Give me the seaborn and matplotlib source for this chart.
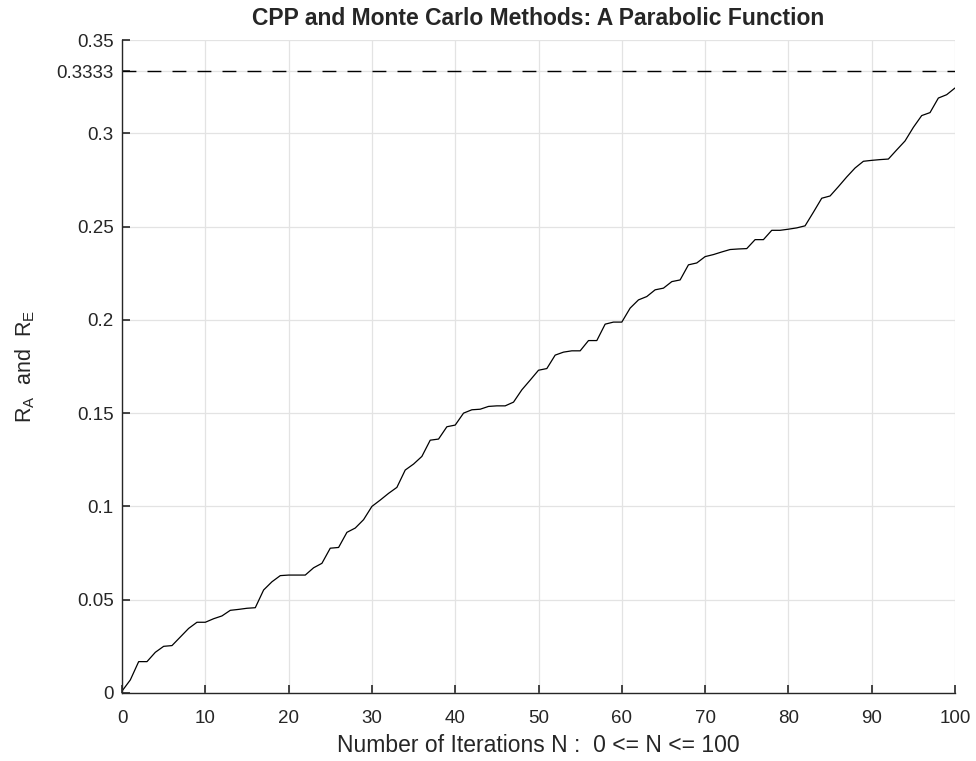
import matplotlib
matplotlib.use("Agg")
import matplotlib.pyplot as plt
import seaborn as sns
import pandas as pd

iterations = list(range(0, 101))
ratio = [
    0.001, 0.007, 0.0168, 0.0168, 0.0218, 0.025, 0.0254, 0.030, 0.0346, 0.0379,
    0.0379, 0.0398, 0.0413, 0.0443, 0.0448, 0.0454, 0.0457, 0.0552, 0.0596, 0.0629,
    0.0632, 0.0632, 0.0632, 0.0671, 0.0695, 0.0776, 0.078, 0.0861, 0.0884, 0.0929,
    0.1, 0.1034, 0.107, 0.1102, 0.1195, 0.1227, 0.1268, 0.1355, 0.1361, 0.1427,
    0.1436, 0.15, 0.1518, 0.1521, 0.1536, 0.1539, 0.1539, 0.1559, 0.1625, 0.1677,
    0.173, 0.1739, 0.1811, 0.1827, 0.1834, 0.1834, 0.1889, 0.1889, 0.1977, 0.1988,
    0.1988, 0.2063, 0.2107, 0.2125, 0.2161, 0.217, 0.2205, 0.2214, 0.2295, 0.2305,
    0.2339, 0.235, 0.2364, 0.2377, 0.238, 0.2382, 0.243, 0.243, 0.248, 0.248,
    0.2486, 0.2493, 0.2504, 0.2577, 0.2652, 0.2664, 0.2714, 0.2766, 0.2814, 0.285,
    0.2855, 0.2859, 0.2862, 0.2911, 0.2959, 0.3032, 0.3095, 0.3111, 0.3189, 0.3207,
    0.3243,
]
exact_value = 1 / 3
x_ticks = [0, 10, 20, 30, 40, 50, 60, 70, 80, 90, 100]
y_ticks = [0, 0.05, 0.1, 0.15, 0.2, 0.25, 0.3, 0.3333, 0.35]
y_tick_labels = ["0", "0.05", "0.1", "0.15", "0.2", "0.25", "0.3", "0.3333", "0.35"]
x_tick_labels = [str(v) for v in x_ticks]

sns.set_theme(style="white")
plt.rcParams["font.family"] = ["Liberation Sans", "DejaVu Sans"]
plt.rcParams["mathtext.fontset"] = "custom"
plt.rcParams["mathtext.rm"] = "Liberation Sans"
plt.rcParams["mathtext.it"] = "Liberation Sans"

df = pd.DataFrame({"N": iterations, "R": ratio})

fig = plt.figure(figsize=(9.76, 7.61), dpi=100)
ax = fig.add_axes([0.125, 0.0894, 0.8535, 0.858])

ax.grid(True, color="#e3e3e3", linewidth=0.9)
ax.set_axisbelow(True)

sns.lineplot(data=df, x="N", y="R", ax=ax, color="black", linewidth=0.9)
ax.axhline(exact_value, color="black", linestyle=(0, (10, 8)), linewidth=1.0)

ax.set_xlim(0, 100)
ax.set_ylim(0, 0.35)
ax.set_xticks(x_ticks)
ax.set_xticklabels(x_tick_labels)
ax.set_yticks(y_ticks)
ax.set_yticklabels(y_tick_labels)
ax.tick_params(axis="both", direction="in", length=6, width=1.2, colors="#262626",
               labelsize=13.5, left=True, bottom=True)
ax.tick_params(axis="x", pad=12)
ax.tick_params(axis="y", pad=6)

for side in ["top", "right"]:
    ax.spines[side].set_visible(False)
for side in ["left", "bottom"]:
    ax.spines[side].set_color("#262626")
    ax.spines[side].set_linewidth(1.0)

ax.set_title("CPP and Monte Carlo Methods: A Parabolic Function",
             fontsize=16.5, fontweight="bold", pad=11)
ax.set_xlabel("Number of Iterations N :  0 <= N <= 100", fontsize=16.5,
              color="#262626", labelpad=5)
ax.set_ylabel(r"$\mathrm{R_A}$  and  $\mathrm{R_E}$", fontsize=15.5,
              color="#262626", labelpad=14)

fig.savefig("out.png", dpi=100)
